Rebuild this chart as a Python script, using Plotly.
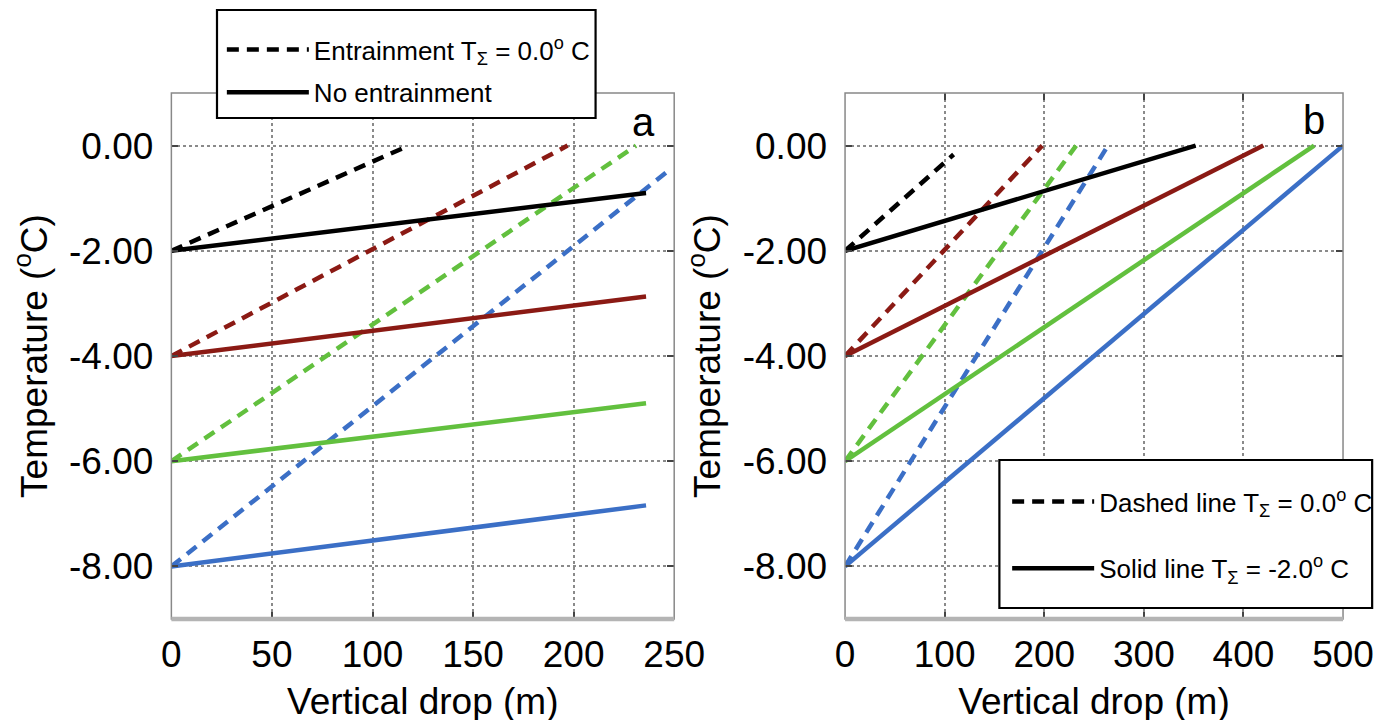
import plotly.graph_objects as go

# ---------------- data ----------------
colors = ["#000000", "#8B1A14", "#62C03E", "#3B6FC6"]   # T0 = -2, -4, -6, -8
start_T = [-2.0, -4.0, -6.0, -8.0]

# Panel a: entrainment (dashed), end points
a_dash_x_end = [118, 197, 231, 247]
a_dash_T_end = [0.0, 0.0, 0.0, -0.48]
# Panel a: no entrainment (solid)
a_solid_x_end = [236, 236, 236, 236]
a_solid_T_end = [-0.90, -2.87, -4.90, -6.84]

# Panel b: T_sigma = 0.0 (dashed)
b_dash_x_end = [109, 198, 232, 264]
b_dash_T_end = [-0.17, 0.0, 0.0, 0.0]
# Panel b: T_sigma = -2.0 (solid)
b_solid_x_end = [352, 420, 471, 500]
b_solid_T_end = [0.0, 0.0, 0.0, 0.0]

y_ticks = [-8, -6, -4, -2, 0]
y_tick_labels = ["-8.00", "-6.00", "-4.00", "-2.00", "0.00"]
a_x_ticks = [0, 50, 100, 150, 200, 250]
b_x_ticks = [0, 100, 200, 300, 400, 500]

FONT = "Liberation Sans, Arial, sans-serif"
LW = 4.5
DASH = "12px,8px"
W, H = 1400, 720

fig = go.Figure()

def add_lines(xa, ya, xs_end, ts_end, dash):
    for c, t0, xe, te in zip(colors, start_T, xs_end, ts_end):
        fig.add_trace(go.Scatter(
            x=[0, xe], y=[t0, te], mode="lines",
            line=dict(color=c, width=LW, dash=dash),
            xaxis=xa, yaxis=ya, showlegend=False, hoverinfo="skip"))

add_lines("x", "y", a_dash_x_end, a_dash_T_end, DASH)
add_lines("x", "y", a_solid_x_end, a_solid_T_end, "solid")
add_lines("x2", "y2", b_dash_x_end, b_dash_T_end, DASH)
add_lines("x2", "y2", b_solid_x_end, b_solid_T_end, "solid")

# legend entries
fig.add_trace(go.Scatter(x=[None], y=[None], mode="lines",
                         line=dict(color="black", width=LW, dash=DASH),
                         name="Entrainment T<sub>Σ</sub> = 0.0<sup>o</sup> C",
                         legend="legend", legendgroup="a1", xaxis="x", yaxis="y"))
fig.add_trace(go.Scatter(x=[None], y=[None], mode="lines",
                         line=dict(color="black", width=LW),
                         name="No entrainment",
                         legend="legend", legendgroup="a2", xaxis="x", yaxis="y"))
fig.add_trace(go.Scatter(x=[None], y=[None], mode="lines",
                         line=dict(color="black", width=LW, dash=DASH),
                         name="Dashed line T<sub>Σ</sub> = 0.0<sup>o</sup> C",
                         legend="legend2", legendgroup="b1", xaxis="x2", yaxis="y2"))
fig.add_trace(go.Scatter(x=[None], y=[None], mode="lines",
                         line=dict(color="black", width=LW),
                         name="Solid line T<sub>Σ</sub> = -2.0<sup>o</sup> C",
                         legend="legend2", legendgroup="b2", xaxis="x2", yaxis="y2"))

ydom = [1 - 611 / H, 1 - 85 / H]
xdom_a = [158 / W, 676 / W]
xdom_b = [852 / W, 1365 / W]

def xaxis(dom, rng, ticks, anchor):
    return dict(domain=dom, range=rng, tickvals=ticks, anchor=anchor,
                showline=False, zeroline=False,
                showgrid=True, gridcolor="#8a8a8a", griddash="dot", gridwidth=1.5,
                ticks="inside", ticklen=7, tickwidth=1.5, tickcolor="#444", mirror="ticks",
                tickfont=dict(size=37, color="black", family=FONT),
                ticklabelstandoff=10,
                title=dict(text="Vertical drop (m)", font=dict(size=37, color="black", family=FONT),
                           standoff=14))

def yaxis(anchor):
    return dict(domain=ydom, range=[-9, 1], tickvals=y_ticks, ticktext=y_tick_labels,
                anchor=anchor,
                showline=False, zeroline=False,
                showgrid=True, gridcolor="#8a8a8a", griddash="dot", gridwidth=1.5,
                ticks="inside", ticklen=7, tickwidth=1.5, tickcolor="#444", mirror="ticks",
                tickfont=dict(size=37, color="black", family=FONT),
                ticklabelstandoff=17,
                title=dict(text="Temperature (<sup>o</sup>C)", font=dict(size=37, color="black", family=FONT),
                           standoff=10))

shapes = []
for xr, yr in [("x domain", "y domain"), ("x2 domain", "y2 domain")]:
    shapes.append(dict(type="rect", xref=xr, yref=yr, x0=0, x1=1, y0=0, y1=1,
                       line=dict(color="#888888", width=1.5), layer="above"))
    shapes.append(dict(type="line", xref=xr, yref=yr, x0=0, x1=1, y0=0, y1=0,
                       line=dict(color="#b4b4b4", width=4.5), layer="above"))
# legend frames (white boxes behind the legend entries)
for (l, t, r, b) in [(205, 2, 595, 110), (1011, 452, 1395, 600)]:
    shapes.append(dict(type="rect", xref="paper", yref="paper",
                       x0=l / W, x1=r / W, y0=1 - b / H, y1=1 - t / H,
                       fillcolor="white", line=dict(color="black", width=2.2), layer="above"))

fig.update_layout(
    width=W, height=H,
    margin=dict(l=0, r=0, t=0, b=0),
    paper_bgcolor="white", plot_bgcolor="white",
    font=dict(family=FONT, color="black"),
    xaxis=xaxis(xdom_a, [0, 250], a_x_ticks, "y"),
    yaxis=yaxis("x"),
    xaxis2=xaxis(xdom_b, [0, 500], b_x_ticks, "y2"),
    yaxis2=yaxis("x2"),
    shapes=shapes,
    legend=dict(x=210 / W, y=1 - 18 / H, xanchor="left", yanchor="top",
                bgcolor="rgba(0,0,0,0)", borderwidth=0,
                font=dict(size=26, color="black", family=FONT),
                itemwidth=82, tracegroupgap=6),
    legend2=dict(x=1019 / W, y=1 - 470 / H, xanchor="left", yanchor="top",
                 bgcolor="rgba(0,0,0,0)", borderwidth=0,
                 font=dict(size=26, color="black", family=FONT),
                 itemwidth=82, tracegroupgap=30),
    annotations=[
        dict(text="a", xref="x domain", yref="paper", x=0.965, y=1 - 90 / H,
             showarrow=False, font=dict(size=40, color="black", family=FONT)),
        dict(text="b", xref="x2 domain", yref="paper", x=0.968, y=1 - 88 / H,
             showarrow=False, font=dict(size=40, color="black", family=FONT)),
    ],
)

fig.write_html("out.html")
